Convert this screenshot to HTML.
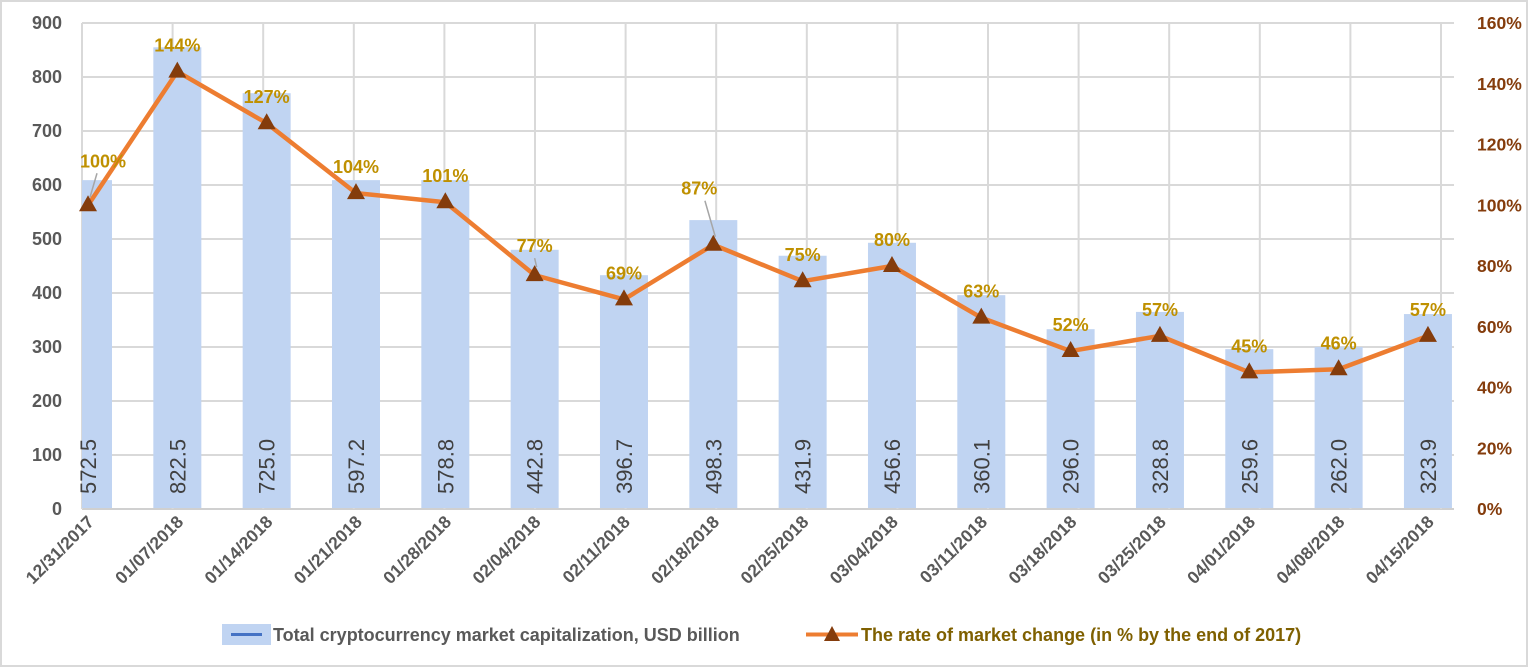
<!DOCTYPE html>
<html><head><meta charset="utf-8">
<style>
html,body{margin:0;padding:0;background:#fff;}
svg{display:block;font-family:"Liberation Sans",sans-serif;}
</style></head>
<body>
<svg id="chart" width="1528" height="667" viewBox="0 0 1528 667">
<rect x="1" y="1" width="1526" height="665" fill="#fff" stroke="#d9d9d9" stroke-width="2"/>
<g id="grid"></g>
<g id="bars"></g>
<g id="line"></g>
<g id="axes"></g>
<g>
  <g>
    <rect x="222" y="624" width="49" height="21" fill="#c0d4f2"/>
    <line x1="231" y1="634.5" x2="262" y2="634.5" stroke="#4472c4" stroke-width="3"/>
    <text x="273" y="641" font-size="18" font-weight="bold" fill="#595959">Total cryptocurrency market capitalization, USD billion</text>
  </g>
  <g>
    <line x1="806" y1="634.5" x2="858" y2="634.5" stroke="#ed7d31" stroke-width="4"/>
    <polygon points="832,626 840,641 824,641" fill="#843c0c"/>
    <text x="861" y="641" font-size="18" font-weight="bold" fill="#7f6000">The rate of market change (in % by the end of 2017)</text>
  </g>
</g>
</svg>
<script>
const categories = ["12/31/2017","01/07/2018","01/14/2018","01/21/2018","01/28/2018","02/04/2018","02/11/2018","02/18/2018","02/25/2018","03/04/2018","03/11/2018","03/18/2018","03/25/2018","04/01/2018","04/08/2018","04/15/2018"];
const barValues = [609, 855, 770, 609, 609, 480, 433, 535, 469, 493, 396, 333, 365, 296, 300, 361];
const barLabels = ["572.5","822.5","725.0","597.2","578.8","442.8","396.7","498.3","431.9","456.6","360.1","296.0","328.8","259.6","262.0","323.9"];
const rateValues = [100, 144, 127, 104, 101, 77, 69, 87, 75, 80, 63, 52, 57, 45, 46, 57];
const leftTicks = [0,100,200,300,400,500,600,700,800,900];
const rightTicks = [0,20,40,60,80,100,120,140,160];

const NS = "http://www.w3.org/2000/svg";
const PL = 82, PR = 1454, PT = 23, PB = 509;
const X0 = 88, XSTEP = 89.33;
function xPos(i){ return X0 + i*XSTEP; }
function yLeft(v){ return PB - (v/900)*(PB-PT); }
function yRight(v){ return PB - (v/160)*(PB-PT); }
function mk(tag, attrs, parent){ const e=document.createElementNS(NS,tag); for(const k in attrs) e.setAttribute(k,attrs[k]); parent.appendChild(e); return e; }

const grid = document.getElementById('grid');
const barsG = document.getElementById('bars');
const lineG = document.getElementById('line');
const axesG = document.getElementById('axes');

leftTicks.forEach(t=>{
  const y = yLeft(t);
  const gl = mk('line',{x1:PL,x2:PR,y1:y,y2:y,stroke:t===0?'#d0d0d0':'#d9d9d9','stroke-width':2},grid);
  
  
  const tx = mk('text',{x:62,y:y+6,'text-anchor':'end','font-size':18,'font-weight':'bold',fill:'#595959'},axesG);
  tx.textContent = t;
  
  
});
for(let k=0;k<16;k++){
  const x = PL + k*90.6;
  const vl = mk('line',{x1:x,x2:x,y1:PT,y2:PB,stroke:'#d9d9d9','stroke-width':2},grid);
  
  
}
rightTicks.forEach(t=>{
  const y = yRight(t);
  const tx = mk('text',{x:1477,y:y+6,'font-size':17.5,'font-weight':'bold',fill:'#843c0c'},axesG);
  tx.textContent = t+'%';
  
  
});

const defs = mk('defs',{},document.getElementById('chart'));
const cp = mk('clipPath',{id:'plotclip'},defs);
mk('rect',{x:PL,y:0,width:PR-PL,height:PB},cp);
barsG.setAttribute('clip-path','url(#plotclip)');

categories.forEach((c,i)=>{
  const x = xPos(i), y = yLeft(barValues[i]);
  const b = mk('rect',{x:x-24,y:y,width:48,height:PB-1-y,fill:'#c0d4f2'},barsG);
  
  
  const lt = mk('text',{x:0,y:0,'font-size':22,fill:'#404040',transform:`translate(${x+8},494) rotate(-90)`},axesG);
  lt.textContent = barLabels[i];
  
  
  const xl = mk('text',{x:0,y:0,'font-size':17.5,'font-weight':'bold',fill:'#595959','text-anchor':'end',transform:`translate(${x+7},523) rotate(-45)`},axesG);
  xl.textContent = c;
  
  
});

const pts = rateValues.map((v,i)=>xPos(i)+','+yRight(v)).join(' ');
const pl = mk('polyline',{points:pts,fill:'none',stroke:'#ed7d31','stroke-width':4.5,'stroke-linejoin':'round'},lineG);


const labelShift = {0:[15,-38],5:[0,-23],7:[-14,-50]};
rateValues.forEach((v,i)=>{
  const x = xPos(i), y = yRight(v);
  const m = mk('polygon',{points:`${x},${y-10} ${x+9},${y+6} ${x-9},${y+6}`,fill:'#843c0c'},lineG);
  
  
  const s = labelShift[i] || [0,-20];
  if(labelShift[i]){
    const ld = mk('line',{x1:x+s[0]*0.6,y1:y+s[1]+6,x2:x+2,y2:y-8,stroke:'#a6a6a6','stroke-width':1.5},lineG);
    
    
  }
  const t = mk('text',{x:x+s[0],y:y+s[1],'text-anchor':'middle','font-size':18,'font-weight':'bold',fill:'#bf9000'},lineG);
  t.textContent = v+'%';
  
  
});
</script>
</body></html>
